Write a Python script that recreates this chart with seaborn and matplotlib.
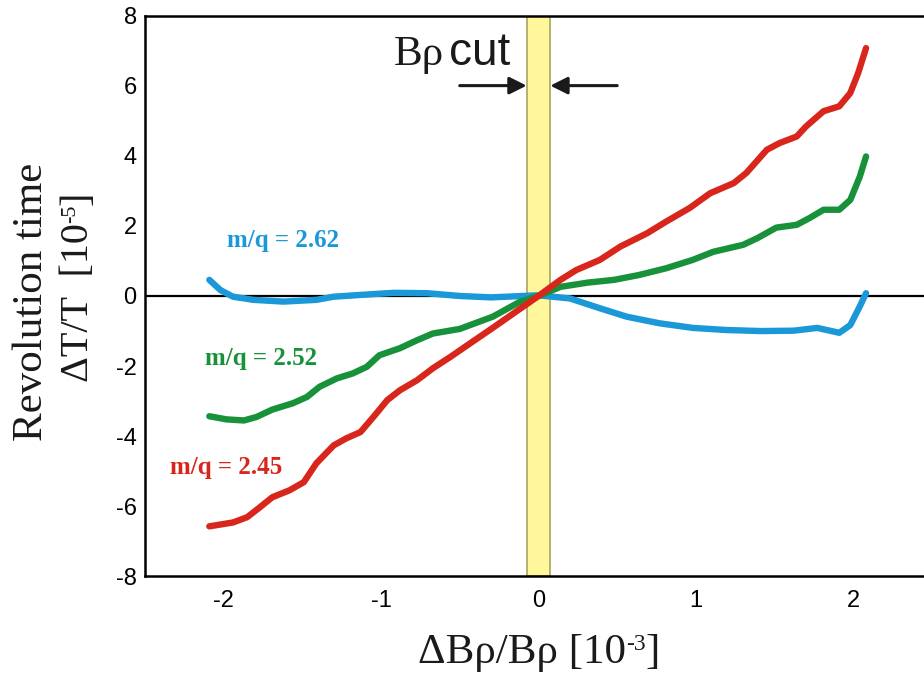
import numpy as np
import pandas as pd
import matplotlib
matplotlib.use("Agg")
import matplotlib.pyplot as plt
import seaborn as sns

# values
red_x = [-2.09, -1.94, -1.85, -1.77, -1.69, -1.58, -1.49, -1.41, -1.30, -1.22, -1.13, -1.05, -0.96,
         -0.88, -0.77, -0.67, -0.56, -0.45, -0.30, -0.15, 0.0, 0.14, 0.24, 0.39, 0.52, 0.69, 0.81,
         0.96, 1.09, 1.24, 1.32, 1.45, 1.53, 1.64, 1.70, 1.81, 1.91, 1.98, 2.03, 2.08]
red_y = [-6.57, -6.46, -6.31, -6.03, -5.74, -5.54, -5.31, -4.77, -4.26, -4.06, -3.88, -3.46, -2.97,
         -2.69, -2.40, -2.06, -1.74, -1.40, -0.94, -0.47, 0.0, 0.46, 0.74, 1.03, 1.41, 1.79, 2.12,
         2.51, 2.93, 3.22, 3.51, 4.17, 4.36, 4.55, 4.84, 5.27, 5.41, 5.79, 6.36, 7.07]

green_x = [-2.09, -1.98, -1.87, -1.79, -1.69, -1.56, -1.47, -1.39, -1.28, -1.18, -1.09, -1.01, -0.88,
           -0.77, -0.67, -0.50, -0.29, -0.12, 0.0, 0.14, 0.31, 0.48, 0.64, 0.81, 0.98, 1.11, 1.30,
           1.39, 1.51, 1.64, 1.72, 1.81, 1.91, 1.98, 2.04, 2.08]
green_y = [-3.43, -3.52, -3.55, -3.45, -3.24, -3.06, -2.88, -2.59, -2.35, -2.21, -2.02, -1.69, -1.49,
           -1.26, -1.07, -0.94, -0.59, -0.17, 0.0, 0.26, 0.38, 0.46, 0.60, 0.79, 1.03, 1.26, 1.46,
           1.65, 1.95, 2.03, 2.22, 2.46, 2.46, 2.74, 3.40, 3.98]

blue_x = [-2.09, -2.02, -1.94, -1.81, -1.62, -1.41, -1.30, -1.13, -0.92, -0.71, -0.50, -0.30, 0.0,
          0.20, 0.39, 0.56, 0.77, 0.98, 1.19, 1.41, 1.62, 1.77, 1.83, 1.91, 1.98, 2.04, 2.08]
blue_y = [0.46, 0.17, -0.02, -0.11, -0.16, -0.11, -0.02, 0.03, 0.09, 0.08, 0.0, -0.04, 0.02,
          -0.07, -0.35, -0.59, -0.78, -0.91, -0.97, -1.0, -0.99, -0.91, -0.97, -1.05, -0.83, -0.30, 0.08]

series_names = ["m/q = 2.45", "m/q = 2.52", "m/q = 2.62"]
series_colors = {"m/q = 2.45": "#d9261c", "m/q = 2.52": "#17913a", "m/q = 2.62": "#1b98d8"}
label_pos = {"m/q = 2.45": (-2.34, -4.89), "m/q = 2.52": (-2.12, -1.77), "m/q = 2.62": (-1.98, 1.57)}

cut_half_width = 0.075
x_ticks = [-2, -1, 0, 1, 2]
y_ticks = [-8, -6, -4, -2, 0, 2, 4, 6, 8]

df = pd.concat([
    pd.DataFrame({"x": red_x, "y": red_y, "series": series_names[0]}),
    pd.DataFrame({"x": green_x, "y": green_y, "series": series_names[1]}),
    pd.DataFrame({"x": blue_x, "y": blue_y, "series": series_names[2]}),
])

sns.set_theme(style="white")
plt.rcParams["font.family"] = ["Liberation Sans", "DejaVu Sans"]
plt.rcParams["axes.unicode_minus"] = False
serif = ["Liberation Serif", "DejaVu Serif"]
ink = "#1a1a1a"

fig = plt.figure(figsize=(9.24, 6.74), dpi=100)
ax = fig.add_axes([0.157, 0.1447, 0.843, 0.8323])

ax.axvspan(-cut_half_width, cut_half_width, facecolor="#fff79a", edgecolor="#aaa262", lw=1.2, zorder=0)
ax.axhline(0, color="black", lw=1.6, zorder=1)

sns.lineplot(data=df, x="x", y="y", hue="series", hue_order=series_names[::-1],
             palette=series_colors, sort=False, estimator=None, lw=4.6, legend=False,
             ax=ax, zorder=3, solid_joinstyle="round")

ax.set_xlim(-2.498, 2.448)
ax.set_ylim(-8, 8)
ax.set_xticks(x_ticks)
ax.set_yticks(y_ticks)
ax.tick_params(direction="in", length=9, width=1.6, labelsize=17, colors="black")
ax.tick_params(axis="x", pad=10)
ax.tick_params(axis="y", pad=6)
for side in ["left", "top", "bottom"]:
    ax.spines[side].set_color("black")
    ax.spines[side].set_linewidth(1.8)
ax.spines["right"].set_visible(False)
ax.set_xlabel("")
ax.set_ylabel("")

for name in series_names:
    ax.text(*label_pos[name], name, color=series_colors[name], family=serif,
            fontsize=18, fontweight="bold", ha="left", va="center")

# B-rho cut marker
ax.text(-0.92, 6.6, "Bρ", family=serif, fontsize=31, ha="left", va="baseline", color=ink)
ax.text(-0.57, 6.6, "cut", fontsize=33, ha="left", va="baseline", color=ink)
arrow = dict(arrowstyle="-|>", color=ink, lw=2.2, mutation_scale=26, shrinkA=0, shrinkB=0)
ax.annotate("", xy=(-cut_half_width, 6.0), xytext=(-0.5, 6.0), arrowprops=arrow)
ax.annotate("", xy=(cut_half_width, 6.0), xytext=(0.5, 6.0), arrowprops=arrow)

# axis titles, with small superscript exponents
fig.text(0.0455, 0.552, "Revolution time", family=serif, fontsize=31, rotation=90,
         rotation_mode="anchor", ha="center", va="baseline", color=ink)
yl = fig.text(0.0952, 0.433, "ΔT/T  [10", family=serif, fontsize=29, rotation=90,
              rotation_mode="anchor", ha="left", va="baseline", color=ink)
ys = fig.add_artist(matplotlib.text.Annotation(
    "-5", xy=(0.02, 1.0), xycoords=yl, family=serif, fontsize=16, rotation=90,
    ha="left", va="bottom", color=ink))
fig.add_artist(matplotlib.text.Annotation(
    "]", xy=(0.0, 1.0), xycoords=(yl, ys), family=serif, fontsize=29, rotation=90,
    ha="left", va="bottom", color=ink))

xl = fig.text(0.452, 0.017, "ΔBρ/Bρ [10", family=serif, fontsize=31,
              ha="left", va="baseline", color=ink)
xs = fig.add_artist(matplotlib.text.Annotation(
    "-3", xy=(1.0, 0.97), xycoords=xl, family=serif, fontsize=17,
    ha="left", va="top", color=ink))
fig.add_artist(matplotlib.text.Annotation(
    "]", xy=(1.0, 0.0), xycoords=(xs, xl), family=serif, fontsize=31,
    ha="left", va="bottom", color=ink))

fig.savefig("out.png", dpi=100)
